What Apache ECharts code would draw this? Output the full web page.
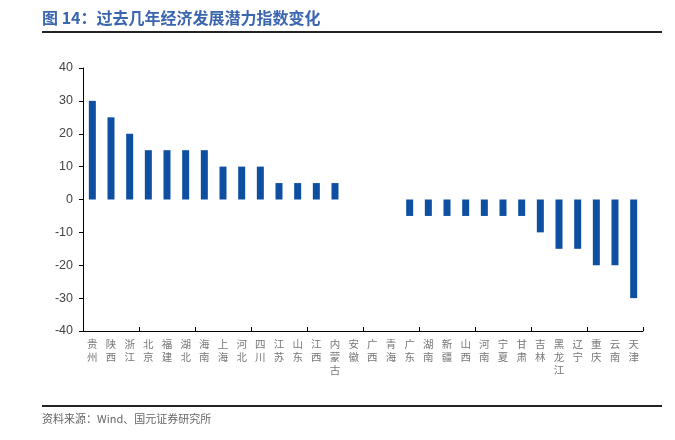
<!DOCTYPE html>
<html>
<head>
<meta charset="utf-8">
<script src="https://cdn.jsdelivr.net/npm/echarts@6/dist/echarts.min.js"></script>
<style>html,body{margin:0;padding:0;background:#fff}#c{width:675px;height:440px}</style>
</head>
<body>
<div id="c"></div>
<script>
const categories = ['贵州','陕西','浙江','北京','福建','湖北','海南','上海','河北','四川','江苏','山东','江西','内蒙古','安徽','广西','青海','广东','湖南','新疆','山西','河南','宁夏','甘肃','吉林','黑龙江','辽宁','重庆','云南','天津'];
const values = [30,25,20,15,15,15,15,10,10,10,5,5,5,5,0,0,0,-5,-5,-5,-5,-5,-5,-5,-10,-15,-15,-20,-20,-30];
const titleText = '图 14：过去几年经济发展潜力指数变化';
const sourceText = '资料来源：Wind、国元证券研究所';

const chart = echarts.init(document.getElementById('c'));
const font = '"Noto Sans CJK SC", sans-serif';
chart.setOption({
  animation: false,
  grid: { left: 83, right: 32, top: 68, bottom: 109 },
  xAxis: [
    {
      type: 'category', data: categories, position: 'bottom',
      axisLine: { show: false }, axisTick: { show: false },
      axisLabel: {
        interval: 0, margin: 7, color: '#777', fontSize: 10.5, fontFamily: font, lineHeight: 13,
        formatter: v => v.split('').join('\n'), verticalAlign: 'top'
      }
    },
    {
      type: 'category', data: categories, position: 'bottom',
      axisLine: { show: true, onZero: true, lineStyle: { color: '#000', width: 1 } },
      axisTick: { show: true, inside: true, length: 4, lineStyle: { color: '#000' } },
      axisLabel: { show: false }
    }
  ],
  yAxis: {
    type: 'value', min: -40, max: 40, interval: 10,
    axisLine: { show: true, lineStyle: { color: '#000' } },
    axisTick: { show: true, length: 4, lineStyle: { color: '#000' } },
    splitLine: { show: false },
    axisLabel: { color: '#444', fontSize: 12.5, fontFamily: 'Liberation Sans, Arial', margin: 10 }
  },
  series: [{
    type: 'bar', data: values, barWidth: 7, xAxisIndex: 0,
    itemStyle: { color: '#0F4FA1' }
  }],
  graphic: [
    { type: 'text', left: 42, top: 10, style: { text: titleText, fill: '#3A66B0', font: 'bold 16px "Noto Sans CJK SC"' } },
    { type: 'rect', shape: { x: 42, y: 31, width: 620, height: 2 }, style: { fill: '#222' } },
    { type: 'rect', shape: { x: 42, y: 405, width: 620, height: 2 }, style: { fill: '#222' } },
    { type: 'text', left: 42, top: 413, style: { text: sourceText, fill: '#666', font: '11px "Noto Sans CJK SC"' } }
  ]
});
</script>
</body>
</html>
